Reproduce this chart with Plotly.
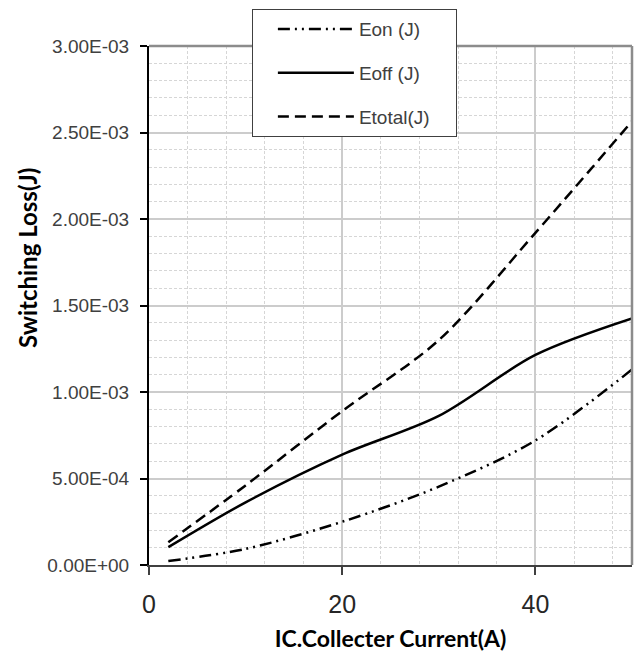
import plotly.graph_objects as go

# ---- data ----
current_a = [2, 10, 20, 30, 40, 50]
eon_j = [2.3e-5, 9.3e-5, 2.5e-4, 4.53e-4, 7.2e-4, 1.13e-3]
eoff_j = [1.03e-4, 3.62e-4, 6.38e-4, 8.62e-4, 1.214e-3, 1.425e-3]
etotal_j = [1.32e-4, 4.6e-4, 8.9e-4, 1.3e-3, 1.92e-3, 2.565e-3]

series_names = ["Eon (J)", "Eoff (J)", "Etotal(J)"]
y_tick_vals = [0, 5e-4, 1e-3, 1.5e-3, 2e-3, 2.5e-3, 3e-3]
y_tick_text = ["0.00E+00", "5.00E-04", "1.00E-03", "1.50E-03", "2.00E-03", "2.50E-03", "3.00E-03"]
x_tick_vals = [0, 20, 40]
x_title = "IC.Collecter Current(A)"
y_title = "Switching Loss(J)"

dashes = ["12px,5px,2px,5px,2px,5px", "solid", "11px,6px"]
legend_pad = "\u00a0" * 4  # widens the legend box like the reference

fig = go.Figure()
for i, (name, ys) in enumerate(zip(series_names, [eon_j, eoff_j, etotal_j])):
    fig.add_trace(go.Scatter(
        x=current_a, y=ys, name=name + legend_pad, mode="lines",
        line=dict(color="black", width=2.5, dash=dashes[i], shape="spline", smoothing=0.9),
        legendgroup=f"g{i}",
    ))

fig.update_layout(
    width=637, height=653,
    margin=dict(l=149, r=5, t=46, b=85),
    paper_bgcolor="white", plot_bgcolor="white",
    showlegend=True,
    legend=dict(
        x=0.213, y=1.071, xanchor="left", yanchor="top",
        bgcolor="white", bordercolor="#404040", borderwidth=1,
        font=dict(family="Liberation Sans, Arial, sans-serif", size=19, color="#404040"),
        tracegroupgap=16, itemwidth=76, traceorder="grouped",
        indentation=20,
    ),
    xaxis=dict(
        range=[0, 50], tickvals=x_tick_vals, ticks="outside", ticklen=8, tickwidth=1.5,
        tickcolor="#404040", showline=True, linecolor="#404040", linewidth=2,
        showgrid=True, gridcolor="#cccccc", gridwidth=1.5, zeroline=False,
        tickfont=dict(family="Liberation Sans, Arial, sans-serif", size=25, color="#262626"),
        ticklabelstandoff=8,
        minor=dict(dtick=4, showgrid=True, griddash="3px,2px", gridcolor="#d6d6d6", gridwidth=1),
        title=dict(text=f"<b>{x_title}</b>", standoff=14,
                   font=dict(family="Lato, Open Sans, sans-serif", size=23, color="#000000")),
    ),
    yaxis=dict(
        range=[0, 3e-3], tickvals=y_tick_vals, ticktext=y_tick_text, ticks="outside",
        ticklen=7, tickwidth=1.5, tickcolor="#000000", showline=True, linecolor="#000000",
        linewidth=2, showgrid=True, gridcolor="#cccccc", gridwidth=1.5, zeroline=False,
        tickfont=dict(family="Liberation Sans, Arial, sans-serif", size=19, color="#404040"),
        ticklabelstandoff=7,
        minor=dict(dtick=1e-4, showgrid=True, griddash="3px,2px", gridcolor="#d6d6d6", gridwidth=1),
    ),
    annotations=[dict(
        text=f"<b>{y_title}</b>", textangle=-90, xref="paper", yref="paper",
        x=-0.253, y=0.591, xanchor="center", yanchor="middle", showarrow=False,
        font=dict(family="Lato, Open Sans, sans-serif", size=24, color="#000000"),
    )],
    shapes=[
        dict(type="line", xref="paper", yref="paper", x0=0, x1=1, y0=1, y1=1,
             line=dict(color="#8c8c8c", width=2.5), layer="above"),
        dict(type="line", xref="paper", yref="paper", x0=1, x1=1, y0=0, y1=1,
             line=dict(color="#8c8c8c", width=2.5), layer="above"),
    ],
)

fig.write_html("out.html")
